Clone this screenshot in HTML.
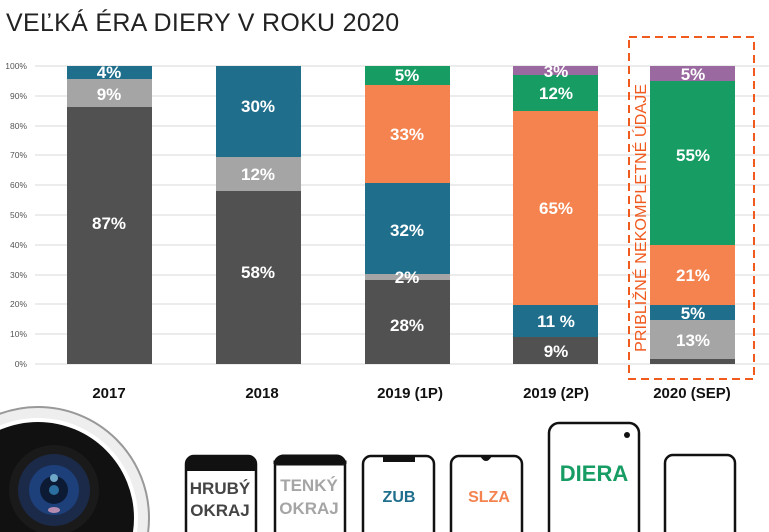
<!DOCTYPE html>
<html><head><meta charset="utf-8"><style>
html,body{margin:0;padding:0;background:#fff;width:769px;height:532px;overflow:hidden;}
svg{display:block;font-family:"Liberation Sans",sans-serif;}
</style></head><body>
<svg width="769" height="532" viewBox="0 0 769 532">
<text x="6" y="31" font-size="25" fill="#222" letter-spacing="0.3">VEĽKÁ ÉRA DIERY V ROKU 2020</text>
<g stroke="#d9d9d9" stroke-width="1">
<line x1="35" x2="769" y1="66" y2="66"/><line x1="35" x2="769" y1="96" y2="96"/><line x1="35" x2="769" y1="126" y2="126"/><line x1="35" x2="769" y1="155" y2="155"/><line x1="35" x2="769" y1="185" y2="185"/><line x1="35" x2="769" y1="215" y2="215"/><line x1="35" x2="769" y1="245" y2="245"/><line x1="35" x2="769" y1="275" y2="275"/><line x1="35" x2="769" y1="304" y2="304"/><line x1="35" x2="769" y1="334" y2="334"/><line x1="35" x2="769" y1="364" y2="364"/>
</g>
<g font-size="8.5" fill="#555" text-anchor="end">
<text x="27" y="69">100%</text><text x="27" y="99">90%</text><text x="27" y="129">80%</text><text x="27" y="158">70%</text><text x="27" y="188">60%</text><text x="27" y="218">50%</text><text x="27" y="248">40%</text><text x="27" y="278">30%</text><text x="27" y="307">20%</text><text x="27" y="337">10%</text><text x="27" y="367">0%</text>
</g>
<rect x="67" y="107" width="85" height="257" fill="#515151"/><rect x="67" y="79" width="85" height="28" fill="#a5a5a5"/><rect x="67" y="66" width="85" height="13" fill="#1f6e8c"/>
<rect x="216" y="191" width="85" height="173" fill="#515151"/><rect x="216" y="157" width="85" height="34" fill="#a5a5a5"/><rect x="216" y="66" width="85" height="91" fill="#1f6e8c"/>
<rect x="365" y="280" width="85" height="84" fill="#515151"/><rect x="365" y="274" width="85" height="6" fill="#a5a5a5"/><rect x="365" y="183" width="85" height="91" fill="#1f6e8c"/><rect x="365" y="85" width="85" height="98" fill="#f4834f"/><rect x="365" y="66" width="85" height="19" fill="#179c64"/>
<rect x="513" y="337" width="85" height="27" fill="#515151"/><rect x="513" y="305" width="85" height="32" fill="#1f6e8c"/><rect x="513" y="111" width="85" height="194" fill="#f4834f"/><rect x="513" y="75" width="85" height="36" fill="#179c64"/><rect x="513" y="66" width="85" height="9" fill="#9a69a0"/>
<rect x="650" y="359" width="85" height="5" fill="#515151"/><rect x="650" y="320" width="85" height="39" fill="#a5a5a5"/><rect x="650" y="305" width="85" height="15" fill="#1f6e8c"/><rect x="650" y="245" width="85" height="60" fill="#f4834f"/><rect x="650" y="81" width="85" height="164" fill="#179c64"/><rect x="650" y="66" width="85" height="15" fill="#9a69a0"/>
<g font-size="17" font-weight="bold" fill="#fff" text-anchor="middle">
<text x="109" y="229">87%</text><text x="109" y="100">9%</text><text x="109" y="78">4%</text>
<text x="258" y="278">58%</text><text x="258" y="180">12%</text><text x="258" y="112">30%</text>
<text x="407" y="331">28%</text><text x="407" y="283">2%</text><text x="407" y="236">32%</text><text x="407" y="140">33%</text><text x="407" y="81">5%</text>
<text x="556" y="357">9%</text><text x="556" y="327">11 %</text><text x="556" y="214">65%</text><text x="556" y="99">12%</text><text x="556" y="77">3%</text>
<text x="693" y="346">13%</text><text x="693" y="319">5%</text><text x="693" y="281">21%</text><text x="693" y="161">55%</text><text x="693" y="80">5%</text>
</g>
<rect x="629" y="37" width="125" height="342" fill="none" stroke="#f05a1e" stroke-width="2" stroke-dasharray="8,5"/>
<text transform="translate(646,352) rotate(-90)" font-size="16" fill="#f05a1e" textLength="268" lengthAdjust="spacingAndGlyphs">PRIBLIŽNÉ NEKOMPLETNÉ ÚDAJE</text>
<g font-size="15" font-weight="bold" fill="#111" text-anchor="middle">
<text x="109" y="398">2017</text><text x="262" y="398">2018</text><text x="410" y="398">2019 (1P)</text><text x="556" y="398">2019 (2P)</text><text x="692" y="398">2020 (SEP)</text>
</g>
<svg x="0" y="400" width="160" height="132" viewBox="0 400 160 132">
<circle cx="38" cy="518" r="111" fill="#eee" stroke="#999" stroke-width="2"/>
<circle cx="38" cy="518" r="100" fill="#fff"/>
<circle cx="38" cy="518" r="96" fill="#111"/>
<circle cx="54" cy="490" r="45" fill="#1a1a1a"/>
<circle cx="54" cy="490" r="36" fill="#1c2a4a"/>
<circle cx="54" cy="490" r="25" fill="#1d3f7a"/>
<circle cx="54" cy="490" r="14" fill="#0d1a33"/>
<circle cx="54" cy="478" r="4" fill="#6fa7c8"/><circle cx="54" cy="490" r="5" fill="#2a6fa0"/>
<ellipse cx="54" cy="510" rx="6" ry="3" fill="#b58cb0"/>
</svg>
<g fill="#fff" stroke="#111" stroke-width="2.5">
<path d="M186 532 V464 a8 8 0 0 1 8 -8 H248 a8 8 0 0 1 8 8 V532"/>
<path d="M275 532 V464 a8 8 0 0 1 8 -8 H337 a8 8 0 0 1 8 8 V532"/>
<path d="M363 532 V464 a8 8 0 0 1 8 -8 H426 a8 8 0 0 1 8 8 V532"/>
<path d="M451 532 V464 a8 8 0 0 1 8 -8 H514 a8 8 0 0 1 8 8 V532"/>
<path d="M549 532 V433 a10 10 0 0 1 10 -10 H629 a10 10 0 0 1 10 10 V532"/>
<path d="M665 532 V463 a8 8 0 0 1 8 -8 H727 a8 8 0 0 1 8 8 V532"/>
</g>
<path d="M187 471 V464 a8 8 0 0 1 8 -8 H247 a8 8 0 0 1 8 8 V471 Z" fill="#111"/>
<path d="M276 463 V464 a8 8 0 0 1 8 -7 H336 a8 8 0 0 1 8 7 V463 Z" fill="#111" stroke="#111" stroke-width="5"/>
<rect x="383" y="456" width="32" height="6" fill="#111"/>
<path d="M480 456 Q486 466 492 456 Z" fill="#111"/>
<circle cx="627" cy="435" r="3" fill="#111"/>
<g font-weight="bold" text-anchor="middle">
<text x="220" y="494" font-size="17" fill="#444">HRUBÝ</text><text x="220" y="516" font-size="17" fill="#444">OKRAJ</text>
<text x="309" y="491" font-size="17" fill="#a5a5a5">TENKÝ</text><text x="309" y="514" font-size="17" fill="#a5a5a5">OKRAJ</text>
<text x="399" y="502" font-size="16" fill="#1f6e8c">ZUB</text>
<text x="489" y="502" font-size="16" fill="#f4834f">SLZA</text>
<text x="594" y="481" font-size="22" fill="#179c64">DIERA</text>
</g>
</svg>
</body></html>
